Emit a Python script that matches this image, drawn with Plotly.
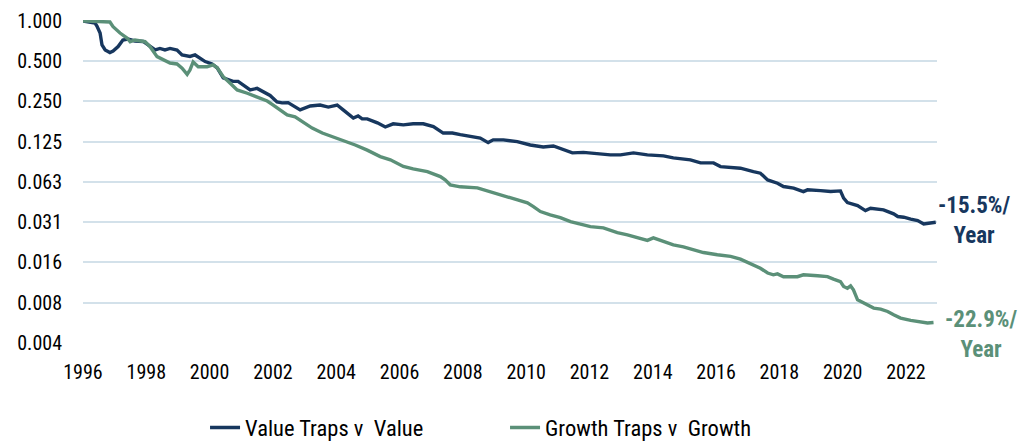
import math
import plotly.graph_objects as go

# ---- data ----
value_traps_x = [1996.00, 1996.25, 1996.38, 1996.44, 1996.54, 1996.60, 1996.70, 1996.85, 1996.95, 1997.11,
                 1997.26, 1997.42, 1997.64, 1997.90, 1998.12, 1998.28, 1998.43, 1998.59, 1998.75, 1998.97,
                 1999.13, 1999.38, 1999.54, 1999.70, 1999.86, 2000.08, 2000.24, 2000.43, 2000.58, 2000.74,
                 2000.90, 2001.06, 2001.28, 2001.50, 2001.69, 2001.91, 2002.13, 2002.29, 2002.48, 2002.86,
                 2003.18, 2003.49, 2003.75, 2004.03, 2004.22, 2004.35, 2004.54, 2004.69, 2004.82, 2004.98,
                 2005.30, 2005.55, 2005.80, 2006.12, 2006.43, 2006.75, 2007.07, 2007.38, 2007.67, 2007.92,
                 2008.24, 2008.55, 2008.80, 2008.96, 2009.28, 2009.72, 2010.13, 2010.54, 2010.86, 2011.14,
                 2011.46, 2011.81, 2012.25, 2012.66, 2012.98, 2013.39, 2013.83, 2014.34, 2014.65, 2015.19,
                 2015.51, 2015.92, 2016.14, 2016.55, 2016.77, 2017.18, 2017.40, 2017.63, 2017.94, 2018.13,
                 2018.45, 2018.76, 2018.89, 2019.30, 2019.62, 2019.93, 2020.03, 2020.15, 2020.47, 2020.72,
                 2020.88, 2021.29, 2021.61, 2021.74, 2021.93, 2022.15, 2022.37, 2022.56, 2022.78, 2022.94]
value_traps_y = [1.000, 0.983, 0.966, 0.918, 0.813, 0.662, 0.607, 0.581, 0.596, 0.644,
                 0.721, 0.733, 0.709, 0.703, 0.650, 0.607, 0.623, 0.607, 0.623, 0.607,
                 0.557, 0.543, 0.557, 0.529, 0.497, 0.477, 0.445, 0.375, 0.362, 0.353,
                 0.353, 0.332, 0.305, 0.313, 0.295, 0.277, 0.248, 0.244, 0.245, 0.216,
                 0.231, 0.235, 0.227, 0.235, 0.216, 0.205, 0.188, 0.195, 0.185, 0.185,
                 0.173, 0.161, 0.170, 0.167, 0.170, 0.170, 0.162, 0.145, 0.145, 0.141,
                 0.136, 0.133, 0.123, 0.129, 0.129, 0.125, 0.118, 0.114, 0.116, 0.110,
                 0.103, 0.104, 0.101, 0.0995, 0.0995, 0.103, 0.0995, 0.0978, 0.0945, 0.0914,
                 0.0867, 0.0867, 0.0813, 0.0795, 0.0791, 0.0746, 0.0726, 0.0647, 0.0611, 0.0577,
                 0.0561, 0.0529, 0.0545, 0.0538, 0.0529, 0.0535, 0.0472, 0.0438, 0.0415, 0.0381,
                 0.0397, 0.0386, 0.0360, 0.0344, 0.0340, 0.0329, 0.0321, 0.0303, 0.0307, 0.0312]

growth_traps_x = [1996.00, 1996.13, 1996.85, 1996.95, 1997.17, 1997.39, 1997.49, 1997.64, 1997.96, 1998.12,
                  1998.34, 1998.53, 1998.75, 1998.97, 1999.13, 1999.29, 1999.38, 1999.48, 1999.64, 1999.92,
                  2000.11, 2000.24, 2000.43, 2000.65, 2000.87, 2001.19, 2001.37, 2001.60, 2001.82, 2002.01,
                  2002.23, 2002.45, 2002.70, 2002.96, 2003.24, 2003.56, 2003.90, 2004.22, 2004.60, 2004.98,
                  2005.39, 2005.71, 2006.12, 2006.43, 2006.88, 2007.29, 2007.44, 2007.60, 2007.92, 2008.46,
                  2008.87, 2009.18, 2009.50, 2009.72, 2010.04, 2010.23, 2010.45, 2010.76, 2011.08, 2011.40,
                  2011.71, 2012.03, 2012.44, 2012.88, 2013.20, 2013.61, 2013.83, 2014.02, 2014.34, 2014.65,
                  2014.97, 2015.29, 2015.60, 2016.04, 2016.46, 2016.77, 2017.18, 2017.40, 2017.63, 2017.81,
                  2017.94, 2018.13, 2018.57, 2018.76, 2019.21, 2019.52, 2019.71, 2019.93, 2020.03, 2020.15,
                  2020.25, 2020.34, 2020.47, 2020.66, 2020.79, 2020.98, 2021.20, 2021.42, 2021.61, 2021.83,
                  2022.15, 2022.46, 2022.68, 2022.87]
growth_traps_y = [1.000, 1.000, 0.983, 0.906, 0.813, 0.746, 0.700, 0.721, 0.700, 0.642,
                  0.541, 0.511, 0.485, 0.477, 0.443, 0.399, 0.430, 0.494, 0.455, 0.455,
                  0.469, 0.447, 0.383, 0.342, 0.305, 0.288, 0.277, 0.264, 0.252, 0.235,
                  0.216, 0.198, 0.192, 0.174, 0.158, 0.145, 0.136, 0.128, 0.118, 0.108,
                  0.0967, 0.0914, 0.0816, 0.0781, 0.0746, 0.0685, 0.0647, 0.0594, 0.0574, 0.0564,
                  0.0529, 0.0500, 0.0474, 0.0462, 0.0435, 0.0408, 0.0375, 0.0354, 0.0338, 0.0315,
                  0.0303, 0.0289, 0.0283, 0.0261, 0.0251, 0.0234, 0.0228, 0.0238, 0.0224, 0.0211,
                  0.0204, 0.0194, 0.0185, 0.0178, 0.0173, 0.0165, 0.0150, 0.0141, 0.0130, 0.0126,
                  0.0128, 0.0122, 0.0122, 0.0126, 0.0124, 0.0122, 0.0117, 0.0112, 0.0103, 0.0100,
                  0.0104, 0.00973, 0.00818, 0.00773, 0.00751, 0.00710, 0.00698, 0.00670, 0.00633, 0.00598,
                  0.00574, 0.00564, 0.00549, 0.00554]

series_names = ["Value Traps v\u00a0 Value", "Growth Traps v\u00a0 Growth"]
annual_labels = ["-15.5%/<br>Year", "-22.9%/<br>Year"]

y_tick_vals = [1, 0.5, 0.25, 0.125, 0.0625, 0.03125, 0.015625, 0.0078125, 0.00390625]
y_tick_text = ["1.000", "0.500", "0.250", "0.125", "0.063", "0.031", "0.016", "0.008", "0.004"]
x_tick_vals = [1996, 1998, 2000, 2002, 2004, 2006, 2008, 2010, 2012, 2014, 2016, 2018, 2020, 2022]
x_tick_text = ["1996", "1998", "2000", "2002", "2004", "2006", "2008", "2010",
               "2012", "2014", "2016", "2018", "2020", "2022"]

# ---- style ----
NAVY = "#17375e"
GREEN = "#5b9078"
GRID = "#d3e1ea"
FONT = "Roboto Condensed, Roboto, Liberation Sans, sans-serif"

fig = go.Figure()
fig.add_trace(go.Scatter(x=value_traps_x, y=value_traps_y, mode="lines", name=series_names[0],
                         line=dict(color=NAVY, width=3.4)))
fig.add_trace(go.Scatter(x=growth_traps_x, y=growth_traps_y, mode="lines", name=series_names[1],
                         line=dict(color=GREEN, width=3.4)))

# horizontal reference line at 1.0
fig.add_shape(type="line", xref="paper", x0=0, x1=1, yref="y", y0=0, y1=0,
              line=dict(color=NAVY, width=2), layer="below")

fig.add_annotation(text="<b>%s</b>" % annual_labels[0], xref="paper", x=1, xanchor="center", xshift=37,
                   yref="y", y=math.log10(value_traps_y[-1]), yanchor="middle", yshift=2,
                   showarrow=False, align="center", font=dict(family=FONT, size=23, color=NAVY))
fig.add_annotation(text="<b>%s</b>" % annual_labels[1], xref="paper", x=1, xanchor="center", xshift=44,
                   yref="y", y=math.log10(growth_traps_y[-1]), yanchor="middle", yshift=-12,
                   showarrow=False, align="center", font=dict(family=FONT, size=23, color=GREEN))

fig.update_layout(
    template="none",
    width=1034, height=446,
    margin=dict(l=75, r=105, t=12, b=111, autoexpand=False),
    paper_bgcolor="white", plot_bgcolor="white",
    font=dict(family=FONT, size=20, color="#000000"),
    showlegend=True,
    legend=dict(orientation="h", x=0.1429, xanchor="left", y=-0.263, yanchor="middle",
                font=dict(family=FONT, size=22.5, color="#000000"), entrywidth=255,
                bgcolor="rgba(0,0,0,0)", borderwidth=0),
    xaxis=dict(range=[1996, 2022.98], tickmode="array", tickvals=x_tick_vals, ticktext=x_tick_text,
               showgrid=False, zeroline=False, showline=False, ticks="", ticklabelstandoff=15,
               automargin=False, tickfont=dict(family=FONT, size=20, color="#000000")),
    yaxis=dict(type="log", range=[-2.4100, 0.0075], tickmode="array", tickvals=y_tick_vals,
               ticktext=y_tick_text, showgrid=True, gridcolor=GRID, gridwidth=1.5,
               zeroline=False, showline=False, ticks="", ticklabelstandoff=20,
               automargin=False, tickfont=dict(family=FONT, size=20, color="#000000")),
)

fig.write_html("out.html")
